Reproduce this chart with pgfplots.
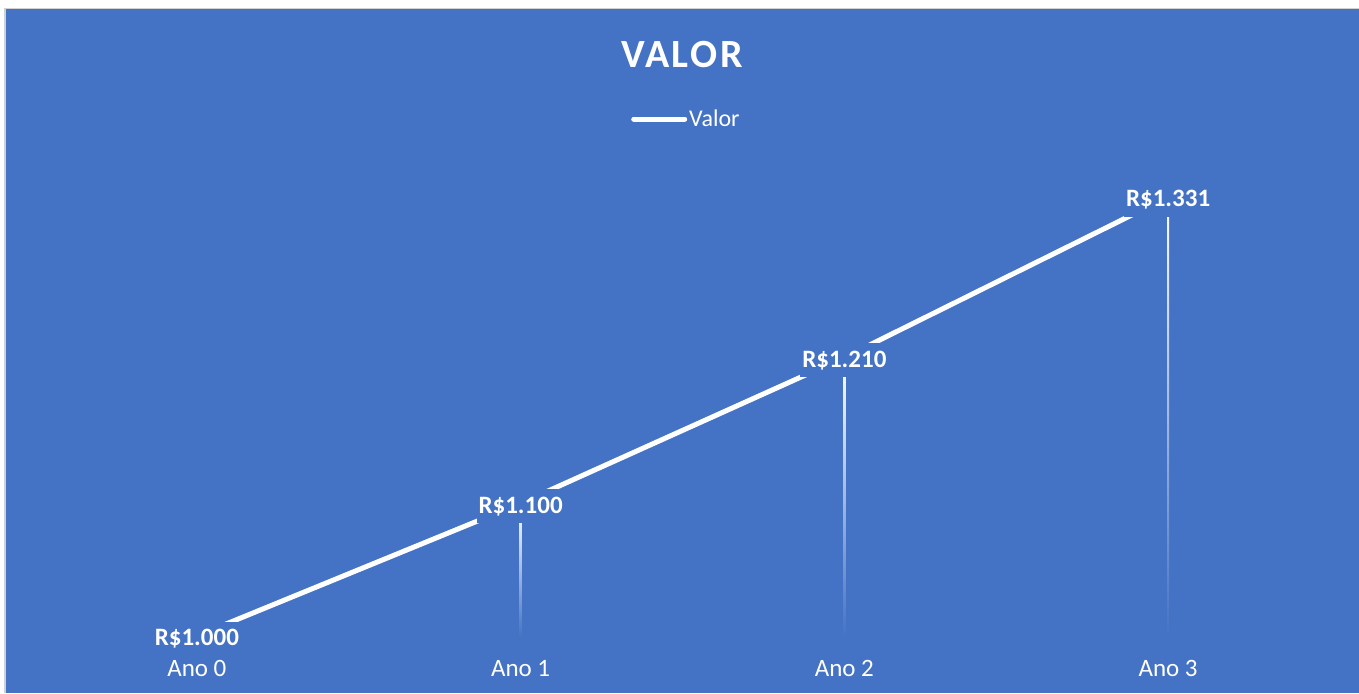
\documentclass[border=0pt]{standalone}
\usepackage{fontspec}
\setmainfont{Carlito}
\usepackage{pgfplots}
\pgfplotsset{compat=1.18}
\definecolor{bgblue}{HTML}{4472C4}
\begin{document}
\begin{tikzpicture}
\useasboundingbox (0,0) rectangle (1359pt,693pt);
\fill[white] (0,0) rectangle (1359pt,693pt);
\fill[bgblue] (6pt,0) rectangle (1359pt,684pt);
\draw[black!18, line width=1.2pt] (5pt,0) -- (5pt,684.6pt) -- (1359pt,684.6pt);
\begin{axis}[
  at={(35pt,55.7pt)}, anchor=south west,
  scale only axis, width=1295pt, height=467.3pt,
  xmin=-0.5, xmax=3.5, ymin=999, ymax=1351.4,
  axis line style={draw=none}, tick style={draw=none},
  ytick=\empty,
  xtick={0,1,2,3}, xticklabels={Ano 0,Ano 1,Ano 2,Ano 3},
  xticklabel style={anchor=base, yshift=-38.7pt, font=\fontsize{25}{30}\selectfont, text=white},
  clip=false,
  legend style={at={(0.503,1.109)}, anchor=center, draw=none, fill=none, text=white, font=\fontsize{24}{29}\selectfont, legend cell align=left},
  legend image code/.code={\draw[white, line width=5pt, line cap=round] (0pt,0pt) -- (51pt,0pt);},
  dropline/.style={forget plot, draw=none, shading=axis, top color=white, middle color=white!75!bgblue, bottom color=bgblue},
]
\addplot[dropline] coordinates {(0.9968,1100) (1.0032,1100) (1.0032,999) (0.9968,999)};
\addplot[dropline] coordinates {(1.9968,1210) (2.0032,1210) (2.0032,999) (1.9968,999)};
\addplot[dropline] coordinates {(2.9968,1331) (3.0032,1331) (3.0032,999) (2.9968,999)};
\addplot[white, line width=5pt, line cap=butt, line join=round,
  point meta=explicit symbolic, nodes near coords, nodes near coords align=center,
  every node near coord/.append style={anchor=center, yshift=-3pt, fill=bgblue, text=white, font=\bfseries\fontsize{25}{30}\selectfont, inner xsep=2pt, inner ysep=0pt, minimum height=34pt}]
  coordinates {(0,1000) [R\$1.000] (1,1100) [R\$1.100] (2,1210) [R\$1.210] (3,1331) [R\$1.331]};
\addlegendentry{Valor}
\end{axis}
\node[text=white, anchor=center] at (682pt,638pt) {\bfseries\fontsize{40}{48}\selectfont\addfontfeatures{LetterSpace=6}VALOR};
\end{tikzpicture}
\end{document}
